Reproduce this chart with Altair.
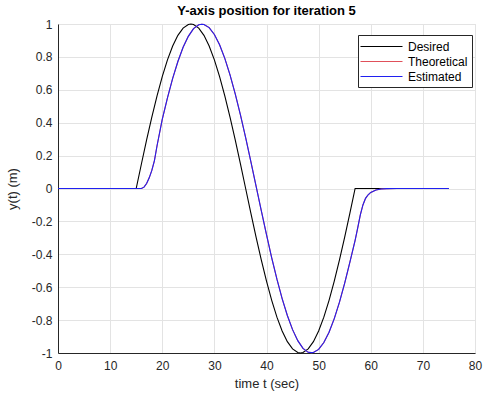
import altair as alt
import pandas as pd

# time samples (sec)
t_desired = [0, 5, 10, 15, 16, 17, 18, 19, 20, 21, 22, 23, 24, 25, 25.5, 26, 27, 28, 29, 30,
             31, 32, 33, 34, 35, 36, 37, 38, 39, 40, 41, 42, 43, 44, 45, 46, 46.5, 47, 48,
             49, 50, 51, 52, 53, 54, 55, 56, 57, 60, 65, 70, 75]
y_desired = [0, 0, 0, 0, 0.149, 0.295, 0.434, 0.563, 0.680, 0.782, 0.866, 0.931, 0.975, 0.997, 1.0,
             0.997, 0.975, 0.931, 0.866, 0.782, 0.680, 0.563, 0.434, 0.295, 0.149, 0.0,
             -0.149, -0.295, -0.434, -0.563, -0.680, -0.782, -0.866, -0.931, -0.975, -0.997, -1.0,
             -0.997, -0.975, -0.931, -0.866, -0.782, -0.680, -0.563, -0.434, -0.295, -0.149,
             0.0, 0, 0, 0, 0]

t_est = [0, 5, 10, 15, 16, 16.5, 17, 17.5, 18, 18.5, 19, 20, 21, 22, 23, 24, 25, 26, 27, 27.6, 28,
         29, 30, 31, 32, 33, 34, 35, 36, 37, 38, 39, 40, 41, 42, 43, 44, 45, 46, 47, 48,
         48.6, 49, 50, 51, 52, 53, 54, 55, 56, 57, 57.5, 58, 58.5, 59, 59.5, 60, 61, 62, 63,
         65, 70, 75]
y_est = [0, 0, 0, 0, 0, 0.008, 0.03, 0.065, 0.11, 0.17, 0.26, 0.42, 0.551, 0.669, 0.772,
         0.859, 0.925, 0.972, 0.995, 0.998, 0.997, 0.978, 0.936, 0.874, 0.791, 0.691, 0.575,
         0.448, 0.309, 0.164, 0.015, -0.134, -0.280, -0.421, -0.551, -0.669, -0.772, -0.858,
         -0.925, -0.972, -0.996, -0.998, -0.997, -0.978, -0.936, -0.874, -0.791, -0.691,
         -0.575, -0.448, -0.315, -0.24, -0.16, -0.10, -0.06, -0.038, -0.024, -0.009, -0.003,
         -0.001, 0, 0, 0]

t_theo = list(t_est)
y_theo = list(y_est)

series_names = ["Desired", "Theoretical", "Estimated"]
series_colors = ["#000000", "#e0505a", "#2020f0"]

frames = []
for name, tt, yy in [("Desired", t_desired, y_desired),
                     ("Theoretical", t_theo, y_theo),
                     ("Estimated", t_est, y_est)]:
    frames.append(pd.DataFrame({"t": tt, "y": yy, "series": name}))
df = pd.concat(frames, ignore_index=True)

FONT = "Liberation Sans"
AX = "#262626"

x = alt.X("t:Q", title="time t (sec)",
          scale=alt.Scale(domain=[0, 80], nice=False),
          axis=alt.Axis(values=list(range(0, 81, 10)), labelFontSize=12, titleFontSize=13,
                        labelFont=FONT, titleFont=FONT, labelColor=AX, titleColor=AX,
                        domainColor=AX, tickColor=AX, ticks=False, labelPadding=7,
                        labelFlush=False,
                        titleFontWeight="normal", titlePadding=6, gridColor="#e3e3e3"))
y = alt.Y("y:Q", title="y(t) (m)",
          scale=alt.Scale(domain=[-1, 1], nice=False),
          axis=alt.Axis(values=[-1, -0.8, -0.6, -0.4, -0.2, 0, 0.2, 0.4, 0.6, 0.8, 1],
                        labelFontSize=12, titleFontSize=13, labelFont=FONT, titleFont=FONT,
                        labelColor=AX, titleColor=AX, domainColor=AX, ticks=False,
                        labelPadding=6, titleFontWeight="normal", titlePadding=12,
                        gridColor="#e3e3e3",
                        labelExpr="replace(datum.value == 0 ? '0' : format(datum.value, '.1~f'), '\u2212', '-')"))
color = alt.Color("series:N",
                  scale=alt.Scale(domain=series_names, range=series_colors),
                  legend=alt.Legend(title=None, orient="none", legendX=300, legendY=11,
                                    symbolType="M-3,0H3", symbolSize=196, symbolStrokeWidth=1,
                                    labelFont=FONT, labelFontSize=12, labelColor="#000000",
                                    strokeColor="#262626", fillColor="#ffffff",
                                    padding=4, rowPadding=1, labelOffset=19,
                                    symbolOffset=12))

base = alt.Chart(df).mark_line(strokeWidth=1.1).encode(x=x, y=y, color=color)

layers = [base.transform_filter(alt.datum.series == s) for s in series_names]

chart = alt.layer(*layers).properties(
    width=417, height=329,
    title=alt.TitleParams("Y-axis position for iteration 5", font=FONT, fontSize=13,
                          fontWeight="bold", color="#000000", offset=0, anchor="middle"),
    padding={"left": 58, "top": 24, "right": 10, "bottom": 46},
    autosize=alt.AutoSizeParams(type="none"),
).configure_view(stroke=AX, strokeWidth=1).configure(background="#ffffff")

chart.save("out.html", embed_options={"renderer": "svg", "actions": False})
